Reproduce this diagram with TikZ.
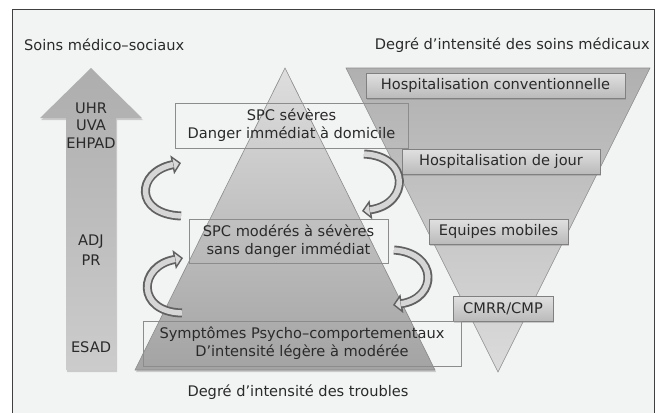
\documentclass[tikz,border=0pt]{standalone}
\usepackage{fontspec}
\setmainfont{DejaVu Sans}
\usetikzlibrary{arrows.meta,shadows}
\definecolor{bgc}{HTML}{F2F3F3}
\definecolor{txt}{HTML}{2A2A2A}
\begin{document}
\begin{tikzpicture}[x=1pt,y=-1pt,
  every node/.style={font=\fontsize{14.6}{18}\selectfont, text=txt},
  lbl/.style={inner sep=0pt, align=center},
  medbox/.style={draw=black!50, line width=0.8pt, top color=black!12, bottom color=black!27,
     minimum height=25pt, inner sep=0pt, drop shadow={opacity=0.35, shadow xshift=1pt, shadow yshift=-2pt}},
  spcbox/.style={draw=black!45, line width=0.8pt, inner sep=0pt, align=center},
  carrow/.style={line width=9pt, draw=black!62,
     -{Triangle[length=9pt,width=19pt,fill=black!15,line width=1.4pt]}},
  carrowin/.style={line width=5.4pt, draw=black!16, shorten >=8pt},
]
\useasboundingbox (0,0) rectangle (655,412);
\fill[white] (0,0) rectangle (655,412);
\fill[bgc] (12,10) rectangle (654,414);
\draw[black!75, line width=1pt] (12,414) -- (12,10) -- (654,10) -- (654,414);

% pyramid
\shade[top color=black!13, bottom color=black!36, drop shadow={opacity=0.35, shadow xshift=1pt, shadow yshift=-2pt}]
  (285,68) -- (435,370) -- (135,370) -- cycle;
\draw[black!45, line width=0.6pt] (285,68) -- (435,370) -- (135,370) -- cycle;

% inverted triangle
\shade[top color=black!31, bottom color=black!14]
  (346,68) -- (650,68) -- (498,372) -- cycle;
\draw[black!45, line width=0.6pt] (346,68) -- (650,68) -- (498,372) -- cycle;

% up arrow
\shade[top color=black!32, bottom color=black!20, drop shadow={opacity=0.35, shadow xshift=1pt, shadow yshift=-2pt}]
  (66,370) -- (66,118) -- (40,118) -- (91,68) -- (142,118) -- (116,118) -- (116,370) -- cycle;

% labels
\node[lbl, anchor=west] (t1) at (24,45) {Soins médico–sociaux};
\node[lbl, anchor=east] (t2) at (650,45) {Degré d'intensité des soins médicaux};
\node[lbl] (t3) at (298,392) {Degré d'intensité des troubles};

\node[lbl] (uhr) at (91,108) {UHR};
\node[lbl] (uva) at (91,125) {UVA};
\node[lbl] (ehpad) at (91,143) {EHPAD};
\node[lbl] (adj) at (91,242) {ADJ};
\node[lbl] (pr) at (91,260) {PR};
\node[lbl] (esad) at (91,347) {ESAD};

% medical boxes
\node[medbox, minimum width=259pt] (hc) at (495.5,85.5) {Hospitalisation conventionnelle};
\node[medbox, minimum width=198pt] (hj) at (501,161.5) {Hospitalisation de jour};
\node[medbox, minimum width=139pt] (em) at (498.5,231.5) {Equipes mobiles};
\node[medbox, minimum width=100pt] (cm) at (503,308.5) {CMRR/CMP};

% SPC boxes
\node[spcbox, minimum width=233pt, minimum height=45pt] (s1) at (291.5,125.5) {SPC sévères\\Danger immédiat à domicile};
\node[spcbox, minimum width=199pt, minimum height=44pt] (s2) at (288.5,241) {SPC modérés à sévères\\sans danger immédiat};
\node[spcbox, minimum width=318pt, minimum height=45pt] (s3) at (302,343.5) {Symptômes Psycho–comportementaux\\D'intensité légère à modérée};

% curved arrows
\coordinate (a1s) at (181,216); \coordinate (a1e) at (181,163);
\coordinate (a2s) at (182,313); \coordinate (a2e) at (183,258);
\coordinate (a3s) at (364,154); \coordinate (a3e) at (362,211);
\coordinate (a4s) at (394,250); \coordinate (a4e) at (393,305);
\foreach \s/\e/\ca/\cb in {a1s/a1e/{(134,214)}/{(136,172)}, a2s/a2e/{(136,312)}/{(138,266)},
                            a3s/a3e/{(410,156)}/{(410,204)}, a4s/a4e/{(438,253)}/{(438,298)}}{
  \draw[carrow] (\s) .. controls \ca and \cb .. (\e);
  \draw[carrowin] (\s) .. controls \ca and \cb .. (\e);
}
\end{tikzpicture}
\end{document}
